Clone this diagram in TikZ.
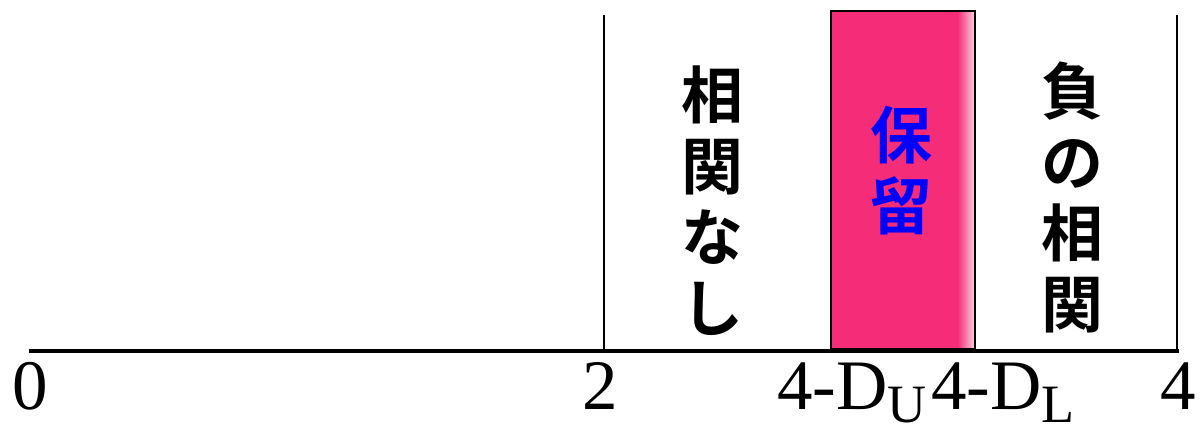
\documentclass[tikz,border=0pt]{standalone}
\usepackage{fontspec}
\setmainfont{Liberation Serif}
\newfontfamily\jp{Noto Sans CJK JP}[BoldFont={Noto Sans CJK JP Bold}]
\definecolor{holdpink}{RGB}{245,45,120}
\definecolor{holdblue}{RGB}{0,0,255}
\tikzset{
  axisline/.style={line width=4pt},
  sepline/.style={line width=1.5pt},
  vtext/.style={font=\jp\bfseries\fontsize{62}{71}\selectfont, align=center, inner sep=0pt, anchor=north},
  ticklabel/.style={font=\fontsize{71}{71}\selectfont, inner sep=0pt, anchor=base},
}
\newcommand{\lowsub}[1]{\raisebox{-13pt}{\fontsize{54}{54}\selectfont #1}}
\begin{document}
\begin{tikzpicture}[x=1pt,y=-1pt]
\useasboundingbox (0,0) rectangle (1200,429);
% pink region
\fill[holdpink] (830,10) rectangle (958,348);
\shade[left color=holdpink, right color=holdpink!25] (957.5,10) rectangle (974,348);
\node[draw=black, line width=2pt, minimum width=144pt, minimum height=338pt, inner sep=0pt, anchor=north west] (hold) at (830,10) {};
% separators
\coordinate (s2top) at (604,15);
\coordinate (s2bot) at (604,351);
\coordinate (s4top) at (1177,15);
\coordinate (s4bot) at (1177,351);
\draw[sepline] (s2top) -- (s2bot);
\draw[line width=2pt] (s4top) -- (s4bot);
% axis
\coordinate (a0) at (29,351);
\coordinate (a1) at (1179,351);
\draw[axisline] (a0) -- (a1);
% vertical texts
\node[vtext] (nocorr) at (712,66) {相\\関\\な\\し};
\node[vtext, text=holdblue] (reserve) at (901,106) {保\\留};
\node[vtext] (negcorr) at (1072,62) {負\\の\\相\\関};
% tick labels
\node[ticklabel] (l0) at (30,409) {0};
\node[ticklabel] (l2) at (600,409) {2};
\node[ticklabel, anchor=base west] (ldu) at (777,409) {4-D\lowsub{U}};
\node[ticklabel, anchor=base west] (ldl) at (931,409) {4-D\lowsub{L}};
\node[ticklabel] (l4) at (1178,409) {4};
\end{tikzpicture}
\end{document}
